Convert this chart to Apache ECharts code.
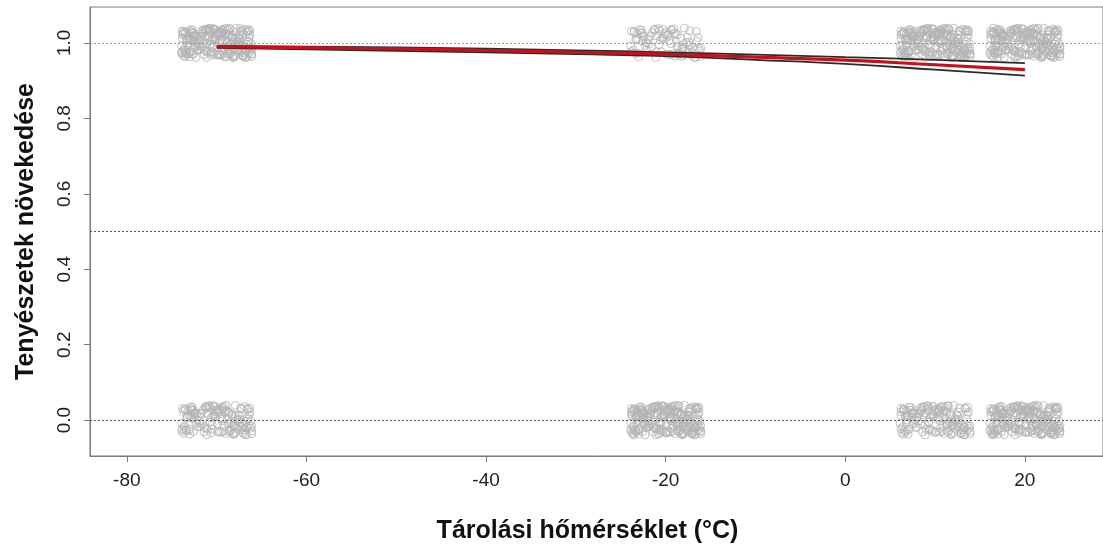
<!DOCTYPE html>
<html>
<head>
<meta charset="utf-8">
<script src="https://cdn.jsdelivr.net/npm/echarts@6/dist/echarts.min.js"></script>
<style>
html,body{margin:0;padding:0;background:#fff;}
#chart{width:1103px;height:549px;}
</style>
</head>
<body>
<div id="chart"></div>
<script>
// Storage temperature groups and growth outcome (0/1), with number of jittered points shown
const clusterX = [-70, -70, -20, -20, 10, 10, 20, 20];
const clusterY = [1, 0, 1, 0, 1, 0, 1, 0];
const clusterN = [220, 150, 90, 230, 220, 150, 220, 220];
const clusterStart = [0, 13, 37, 51, 22, 64, 78, 45];

// hand-typed jitter offsets (°C, outcome units)
const jitDx = [-3.8,-2.1,0.4,2.9,1.3,-0.7,3.6,-3.1,0.9,-1.6,
  2.2,-3.5,1.8,-0.2,3.9,-2.7,0.1,-1.1,2.6,-3.9,
  1.1,3.3,-2.4,-0.5,0.7,2.0,-3.3,3.7,-1.4,-0.9,
  1.6,-2.9,2.8,0.3,-3.7,-1.8,3.1,0.6,-2.2,1.9,
  -0.1,3.5,-3.0,2.4,-1.2,0.8,-2.6,1.4,3.8,-0.4,
  -3.4,2.1,-1.9,0.2,3.0,-2.8,1.0,-0.6,2.7,-3.6,
  1.7,-1.0,3.4,-2.3,0.5,-3.2,2.5,-0.3,1.2,-1.7,
  3.2,-2.0,0.0,-3.8,2.3,-1.3,3.6,1.5,-2.5,0.6,
  -0.8,2.9,-3.1,1.3,-1.5,3.9,-2.6,0.3,2.0,-3.5,
  1.8,-0.2,-2.9,3.3,-1.1,0.9,2.6,-3.3,1.4,-0.7];
const jitDy = [0.031,-0.018,0.006,-0.033,0.022,-0.004,0.014,-0.027,0.037,-0.011,
  -0.022,0.028,-0.036,0.010,-0.015,0.034,-0.030,0.019,0.002,-0.008,
  0.025,-0.039,0.016,-0.024,0.033,-0.013,0.008,0.021,-0.031,0.038,
  -0.005,0.012,-0.020,0.029,-0.034,0.017,-0.026,0.035,0.000,-0.016,
  0.023,0.004,-0.037,0.015,0.036,-0.029,0.026,-0.010,-0.021,0.011,
  -0.028,0.039,-0.003,0.020,-0.012,0.027,-0.035,0.007,0.032,-0.019,
  0.013,-0.025,0.030,-0.007,-0.032,0.024,-0.017,0.036,0.003,0.018,
  -0.038,0.009,0.028,-0.023,0.001,0.034,-0.014,-0.030,0.019,-0.002,
  0.038,-0.026,0.012,-0.009,0.027,-0.036,0.005,0.022,-0.033,0.030,
  -0.015,0.016,0.035,-0.020,-0.039,0.025,-0.006,0.010,-0.029,0.032];

// fitted logistic curve and confidence band
const fitX = [-70, -50, -30, -20, -10, 0, 10, 20];
const fitY = [0.990, 0.984, 0.975, 0.970, 0.962, 0.954, 0.942, 0.929];
const upperY = [0.992, 0.988, 0.980, 0.975, 0.969, 0.962, 0.955, 0.946];
const lowerY = [0.987, 0.979, 0.970, 0.965, 0.955, 0.944, 0.929, 0.913];

const xTicks = [-80, -60, -40, -20, 0, 20];
const yTicks = [0, 0.2, 0.4, 0.6, 0.8, 1.0];
const refLines = [0, 0.5, 1];

const pts = [];
for (let c = 0; c < clusterX.length; c++) {
  for (let i = 0; i < clusterN[c]; i++) {
    const kx = (i + clusterStart[c]) % jitDx.length;
    const ky = (i + Math.floor(i / jitDx.length) * 31 + clusterStart[c]) % jitDy.length;
    pts.push([clusterX[c] + jitDx[kx], clusterY[c] + jitDy[ky]]);
  }
}
const zip = (xs, ys) => xs.map((x, i) => [x, ys[i]]);

const FONT = '"Liberation Sans Narrow", "Liberation Sans", Arial, sans-serif';
const axisCol = '#7a7a7a';

const chart = echarts.init(document.getElementById('chart'), null, {renderer: 'canvas'});
chart.setOption({
  animation: false,
  backgroundColor: '#fff',
  grid: {left: 90, top: 7, right: -2, bottom: 92, show: true, borderColor: axisCol, borderWidth: 1, backgroundColor: 'transparent'},
  xAxis: {
    type: 'value', min: -84.1, max: 28.7,
    name: 'Tárolási hőmérséklet (°C)', nameLocation: 'middle', nameGap: 63,
    nameTextStyle: {fontFamily: FONT, fontSize: 25, fontWeight: 'bold', color: '#111', padding: [0, 18, 0, 0]},
    axisLine: {show: true, onZero: false, lineStyle: {color: axisCol, width: 1}},
    axisTick: {show: true, length: 6, customValues: xTicks, lineStyle: {color: axisCol}},
    axisLabel: {customValues: xTicks, margin: 15, fontFamily: FONT, fontSize: 19, color: '#222'},
    splitLine: {show: false}
  },
  yAxis: {
    type: 'value', min: -0.095, max: 1.095,
    name: 'Tenyészetek növekedése', nameLocation: 'middle', nameGap: 51,
    nameTextStyle: {fontFamily: FONT, fontSize: 25, fontWeight: 'bold', color: '#111'},
    axisLine: {show: true, onZero: false, lineStyle: {color: axisCol, width: 1}},
    axisTick: {show: true, length: 6, customValues: yTicks, lineStyle: {color: axisCol}},
    axisLabel: {customValues: yTicks, rotate: 90, margin: 16, fontFamily: FONT, fontSize: 19, color: '#222',
      formatter: v => v.toFixed(1)},
    splitLine: {show: false}
  },
  series: [
    {
      type: 'scatter', data: pts, symbol: 'circle', symbolSize: 8, large: false,
      itemStyle: {color: 'rgba(0,0,0,0)', borderColor: '#b4b4b4', borderWidth: 1},
      silent: true, z: 2,
      markLine: {
        silent: true, symbol: 'none', label: {show: false},
        data: refLines.map(v => ({yAxis: v, lineStyle: {color: v === 1 ? '#9a9a9a' : '#555', type: [2, 2], width: 1}}))
      }
    },
    {type: 'line', data: zip(fitX, upperY), showSymbol: false, smooth: true, lineStyle: {color: '#2a2a2a', width: 1.8}, z: 3},
    {type: 'line', data: zip(fitX, lowerY), showSymbol: false, smooth: true, lineStyle: {color: '#2a2a2a', width: 1.8}, z: 3},
    {type: 'line', data: zip(fitX, fitY), showSymbol: false, smooth: true, lineStyle: {color: '#c8101a', width: 3.2}, z: 4}
  ]
});
</script>
</body>
</html>
